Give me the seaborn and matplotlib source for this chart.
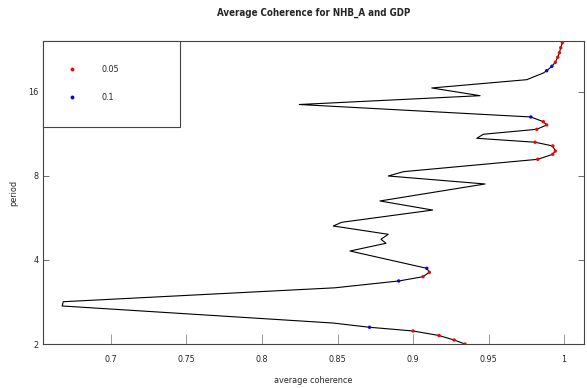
import matplotlib
matplotlib.use("Agg")
import matplotlib.pyplot as plt
from matplotlib.lines import Line2D
import seaborn as sns
import pandas as pd

# period (y) and average coherence (x), bottom to top
period = [2.0, 2.067, 2.145, 2.227, 2.296, 2.378, 2.737, 2.835, 3.18, 3.364,
          3.485, 3.614, 3.735, 4.308, 4.592, 4.746, 4.945, 5.296, 5.46, 6.04,
          6.51, 7.49, 8.0, 8.29, 9.18, 9.57, 9.83, 10.25, 10.57, 10.92,
          11.29, 11.76, 12.19, 12.52, 13.02, 14.43, 15.52, 16.54, 17.71, 18.72,
          19.07, 19.78, 20.44, 21.31, 22.13, 23.06, 24.03, 24.67]
coherence = [0.9344, 0.9272, 0.9172, 0.900, 0.8712, 0.847, 0.6677, 0.6684, 0.8483, 0.8905,
             0.9066, 0.9108, 0.9091, 0.8583, 0.8821, 0.8788, 0.8836, 0.8472, 0.8528, 0.913,
             0.8781, 0.9477, 0.8836, 0.8936, 0.9826, 0.9925, 0.9942, 0.9925, 0.9808, 0.9422,
             0.9466, 0.9819, 0.9885, 0.9863, 0.978, 0.8247, 0.9444, 0.9124, 0.9753, 0.9863,
             0.9885, 0.9919, 0.9942, 0.9958, 0.9969, 0.9978, 0.9989, 0.9997]
# significance level of each point: "" = none
signif = ["0.05", "0.05", "0.05", "0.05", "0.1", "", "", "", "", "0.1",
          "0.05", "0.05", "0.1", "", "", "", "", "", "", "",
          "", "", "", "", "0.05", "0.05", "0.05", "0.05", "0.05", "",
          "", "0.05", "0.05", "0.05", "0.1", "", "", "", "", "",
          "0.1", "0.1", "0.05", "0.05", "0.05", "0.05", "0.05", "0.05"]
levels = ["0.05", "0.1"]
level_colors = ["#ff0000", "#0000ff"]

df = pd.DataFrame({"period": period, "coherence": coherence, "signif": signif})

sns.set_style("ticks")
plt.rcParams["font.family"] = ["DejaVu Sans"]
plt.rcParams["font.stretch"] = "condensed"

fig = plt.figure(figsize=(5.87, 3.88), dpi=100)
ax = fig.add_axes([43 / 587, 1 - 344 / 388, 541 / 587, 303 / 388])

sns.lineplot(data=df, x="coherence", y="period", sort=False, estimator=None,
             color="black", linewidth=0.8, ax=ax)
pal = dict(zip(levels, level_colors))
sns.scatterplot(data=df[df["signif"] != ""], x="coherence", y="period", hue="signif",
                palette=pal, s=6, linewidth=0, legend=False, ax=ax, zorder=3)

ax.set_yscale("log", base=2)
ax.set_ylim(2, 24.37)
ax.set_xlim(0.655, 1.0132)
ax.set_yticks([2, 4, 8, 16])
ax.set_yticklabels(["2", "4", "8", "16"])
ax.set_xticks([0.7, 0.75, 0.8, 0.85, 0.9, 0.95, 1.0])
ax.set_xticklabels(["0.7", "0.75", "0.8", "0.85", "0.9", "0.95", "1"])
ax.minorticks_off()
ax.tick_params(axis="x", direction="in", length=7, width=0.6, color="#888888",
               labelsize=6.5, pad=8)
ax.tick_params(axis="y", direction="in", length=4, width=0.6, color="#555555",
               labelsize=6.5, pad=3, right=True)
for s in ax.spines.values():
    s.set_color("#444444")
    s.set_linewidth(0.8)

ax.set_xlabel("average coherence", fontsize=6.5)
ax.xaxis.set_label_coords(0.5, -0.105)
ax.set_ylabel("period", fontsize=6.5)
ax.yaxis.set_label_coords(-0.045, 0.5)
ax.set_title("Average Coherence for NHB_A and GDP", fontsize=7, fontweight="bold", pad=18)

handles = [Line2D([], [], marker="o", linestyle="", color=c, markersize=1.8)
           for c in level_colors]
leg = ax.legend(handles, levels, loc="upper left",
                bbox_to_anchor=(0, 1 - 83 / 303, 137 / 541, 83 / 303), mode="expand",
                borderaxespad=0, frameon=True, fancybox=False, fontsize=6.5,
                handlelength=1.0, handletextpad=2.73, labelspacing=2.1,
                borderpad=2.7)
leg.get_frame().set_edgecolor("#444444")
leg.get_frame().set_linewidth(0.8)
leg.get_frame().set_alpha(1)

fig.savefig("out.png", dpi=100)
